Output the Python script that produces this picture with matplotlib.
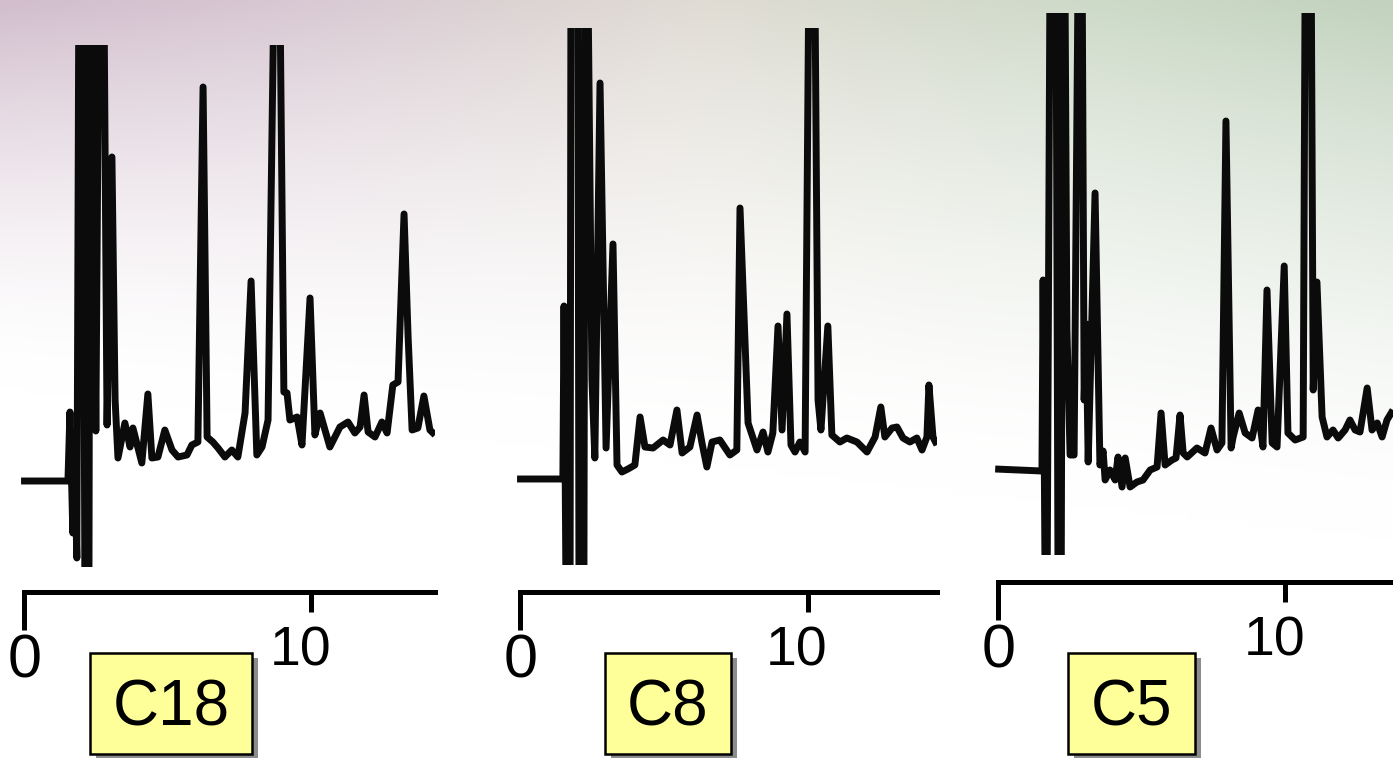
import numpy as np
import matplotlib.pyplot as plt
from matplotlib.patches import Rectangle

plt.rcParams['font.family'] = ['Liberation Sans', 'DejaVu Sans']

# Retention time (min) and detector response (arbitrary units) for each column.
# Off-scale excursions of the detector are kept at +50 / -12.
c18_time = [-0.10, 1.53, 1.60, 1.70, 1.77, 1.84, 1.91, 2.05, 2.12, 2.26, 2.30, 2.37,
            2.50, 2.61, 2.78, 2.89, 3.06, 3.17, 3.27, 3.51, 3.69, 3.79, 4.10, 4.31,
            4.45, 4.66, 4.90, 5.15, 5.36, 5.67, 5.84, 6.05, 6.23, 6.37, 6.57, 6.75,
            6.99, 7.23, 7.44, 7.69, 7.90, 8.10, 8.28, 8.49, 8.70, 8.90, 9.04, 9.15,
            9.25, 9.50, 9.67, 9.95, 10.12, 10.30, 10.64, 10.99, 11.27, 11.51, 11.69,
            11.83, 11.97, 12.21, 12.45, 12.63, 12.83, 13.01, 13.22, 13.36, 13.50,
            13.70, 13.91, 14.12, 14.30]
c18_signal = [0.0, 0.0, 6.9, -5.2, 1.1, -7.7, 50, 50, -12, -12, 50, 50,
              5.0, 50, 50, 5.6, 32.4, 8.1, 2.3, 5.8, 3.4, 5.3, 1.8, 8.7,
              2.3, 2.4, 5.1, 3.1, 2.4, 2.6, 3.6, 3.9, 39.4, 4.4, 3.9, 3.3,
              2.4, 3.1, 2.4, 6.8, 20.0, 2.6, 3.4, 6.1, 50, 50, 8.9, 8.8,
              6.1, 6.4, 3.6, 18.3, 4.6, 6.8, 3.4, 5.4, 5.9, 4.8, 5.4,
              8.6, 4.9, 4.4, 5.9, 4.8, 9.6, 9.9, 26.7, 14.5, 5.1,
              5.3, 8.5, 5.1, 4.6]

c8_time = [-0.10, 1.49, 1.53, 1.60, 1.74, 1.77, 2.01, 2.05, 2.22, 2.26, 2.36, 2.50,
           2.60, 2.78, 2.99, 3.23, 3.37, 3.54, 3.75, 3.99, 4.17, 4.34, 4.62, 4.97,
           5.21, 5.45, 5.63, 5.90, 6.15, 6.32, 6.49, 6.67, 6.94, 7.29, 7.53, 7.64,
           7.92, 8.23, 8.44, 8.61, 8.78, 8.96, 9.10, 9.27, 9.41, 9.55, 9.72, 9.90,
           10.03, 10.24, 10.35, 10.45, 10.69, 10.83, 11.11, 11.35, 11.70, 12.05,
           12.33, 12.53, 12.67, 12.92, 13.09, 13.30, 13.54, 13.78, 13.96, 14.13,
           14.20, 14.34, 14.48]
c8_signal = [0.0, 0.0, 17.3, -12, -12, 50, 50, -12, -12, 50, 50, 9.9,
             2.1, 39.6, 3.1, 23.5, 1.4, 0.7, 1.0, 1.4, 6.2, 3.2, 3.1, 3.9,
             3.4, 6.9, 2.6, 3.2, 6.4, 3.6, 1.2, 3.7, 3.9, 2.4, 2.9, 27.1,
             5.6, 2.9, 4.7, 2.7, 4.6, 15.3, 4.9, 16.5, 3.4, 2.7, 3.7, 2.7,
             50, 50, 7.9, 4.9, 15.3, 4.4, 3.7, 4.1, 3.7, 2.7,
             4.2, 7.2, 4.2, 5.1, 5.2, 4.1, 3.7, 4.1, 2.9, 4.2,
             9.4, 4.2, 3.4]

c5_time = [-0.10, 1.53, 1.57, 1.64, 1.71, 1.81, 2.02, 2.09, 2.20, 2.26, 2.33, 2.40,
           2.51, 2.65, 2.79, 2.93, 3.00, 3.07, 3.14, 3.38, 3.55, 3.66, 3.73, 3.90,
           4.08, 4.18, 4.32, 4.43, 4.60, 4.84, 5.05, 5.30, 5.54, 5.68, 5.82, 6.06,
           6.20, 6.34, 6.45, 6.59, 6.93, 7.21, 7.42, 7.63, 7.80, 7.94, 8.12, 8.19,
           8.40, 8.61, 8.85, 9.06, 9.23, 9.37, 9.55, 9.72, 9.97, 10.10, 10.35,
           10.63, 10.70, 10.91, 10.98, 11.11, 11.29, 11.46, 11.67, 11.85, 12.09,
           12.26, 12.44, 12.61, 12.86, 13.03, 13.21, 13.38, 13.55, 13.76]
c5_signal = [0.0, -0.2, 18.9, -12, -12, 50, 50, -12, -12, 50, 50, 13.9,
             1.4, 1.4, 50, 50, 6.9, 14.5, 0.7, 27.6, 0.4, 1.8, -1.1, -0.1,
             -1.1, 1.2, -1.8, 1.1, -1.8, -1.3, -1.1, -0.1, 0.2, 5.6, 0.4, 0.9,
             1.1, 5.4, 1.6, 1.2, 2.1, 1.6, 4.1, 1.9, 2.6, 34.8, 2.1, 3.2,
             5.6, 3.6, 3.1, 5.9, 2.2, 17.9, 2.6, 2.2, 20.3, 3.6, 2.9,
             3.2, 50, 50, 7.9, 18.7, 5.2, 3.2, 3.9, 3.1, 3.9,
             4.9, 3.9, 3.7, 8.1, 3.9, 4.6, 3.2, 4.9, 5.9]

column_names = ['C18', 'C8', 'C5']
tick_times = [0, 10]
tick_labels = ['0', '10']

W, H = 1393, 758
fig = plt.figure(figsize=(W / 100, H / 100), dpi=100)


def to_fig(left, top, right, bottom):
    """Pixel box (from top-left) -> figure fraction rect."""
    return [left / W, 1 - bottom / H, (right - left) / W, (bottom - top) / H]


# soft slide background: mauve on the left, green on the right, fading to white
ny, nx = 120, 200
xs = np.linspace(0, 1, nx)
ys = np.linspace(0, 1, ny)[:, None]
anchors = [0.0, 0.2, 0.5, 0.8, 1.0]
tops = np.array([[210, 190, 205], [216, 200, 211], [224, 220, 212],
                 [205, 218, 200], [194, 210, 190]]) / 255.0
top_rgb = np.stack([np.interp(xs, anchors, tops[:, k]) for k in range(3)], axis=-1)
depth = 0.50 + 0.20 * xs[None, :]
w = np.clip(1 - ys / depth, 0, 1) ** 1.6
grad = 1 - w[..., None] * (1 - top_rgb[None, :, :])
bg = fig.add_axes([0, 0, 1, 1], zorder=-10)
bg.imshow(grad, extent=[0, 1, 0, 1], aspect='auto', interpolation='bicubic')
bg.axis('off')

# layout of each chromatogram: pixel box, x/y limits, axis line position, label box
panels = [
    dict(time=c18_time, signal=c18_signal, box=(20.5, 45, 435.1, 567),
         xlim=(-0.12, 14.30), ylim=(-8.6, 43.6), axis_y=592, tag=(90, 653, 252, 754)),
    dict(time=c8_time, signal=c8_signal, box=(516.5, 28, 937.0, 565),
         xlim=(-0.12, 14.48), ylim=(-8.6, 45.1), axis_y=592, tag=(605, 653, 731, 754)),
    dict(time=c5_time, signal=c5_signal, box=(994.6, 13, 1393.0, 555),
         xlim=(-0.12, 13.76), ylim=(-8.6, 45.6), axis_y=582, tag=(1068, 653, 1195, 754)),
]

for name, p in zip(column_names, panels):
    left, top, right, bottom = p['box']
    ax = fig.add_axes(to_fig(left, top, right, bottom))
    ax.patch.set_alpha(0)
    ax.plot(p['time'], p['signal'], color='#0b0b0b', lw=5.0,
            solid_joinstyle='round', solid_capstyle='butt')
    ax.set_xlim(*p['xlim'])
    ax.set_ylim(*p['ylim'])

    for side in ('top', 'left', 'right'):
        ax.spines[side].set_visible(False)
    offset_pt = (p['axis_y'] - bottom) * 0.72
    sp = ax.spines['bottom']
    sp.set_position(('outward', offset_pt))
    sp.set_bounds(0, p['xlim'][1])
    sp.set_linewidth(3.6)
    sp.set_color('black')
    ax.set_yticks([])
    ax.set_xticks([tick_times[0]])
    ax.set_xticks([tick_times[1]], minor=True)
    ax.tick_params(axis='x', which='major', length=27, width=3.6, color='black',
                   labelbottom=False)
    ax.tick_params(axis='x', which='minor', length=14.4, width=3.6, color='black',
                   labelbottom=False)

    # tick numbers
    def t_px(t):
        return left + (t - p['xlim'][0]) / (p['xlim'][1] - p['xlim'][0]) * (right - left)

    fig.text((t_px(tick_times[0]) + 1) / W, 1 - (p['axis_y'] + 85) / H, tick_labels[0],
             ha='center', va='baseline', fontsize=44, color='black')
    fig.text((t_px(tick_times[1]) - 11) / W, 1 - (p['axis_y'] + 74) / H, tick_labels[1],
             ha='center', va='baseline', fontsize=40, color='black')

    # yellow column tag with drop shadow
    x0, y0, x1, y1 = p['tag']
    fig.add_artist(Rectangle(((x0 + 6) / W, 1 - (y1 + 5) / H), (x1 - x0) / W, (y1 - y0) / H,
                             transform=fig.transFigure, facecolor='#8c8c8c',
                             edgecolor='none', zorder=5))
    fig.add_artist(Rectangle((x0 / W, 1 - y1 / H), (x1 - x0) / W, (y1 - y0) / H,
                             transform=fig.transFigure, facecolor='#ffff99',
                             edgecolor='black', linewidth=1.8, zorder=6))
    fig.text((x0 + x1) / 2 / W, 1 - ((y0 + y1) / 2 + 22) / H, name,
             ha='center', va='baseline', fontsize=46, color='black', zorder=7)

fig.savefig('out.png', dpi=100)
